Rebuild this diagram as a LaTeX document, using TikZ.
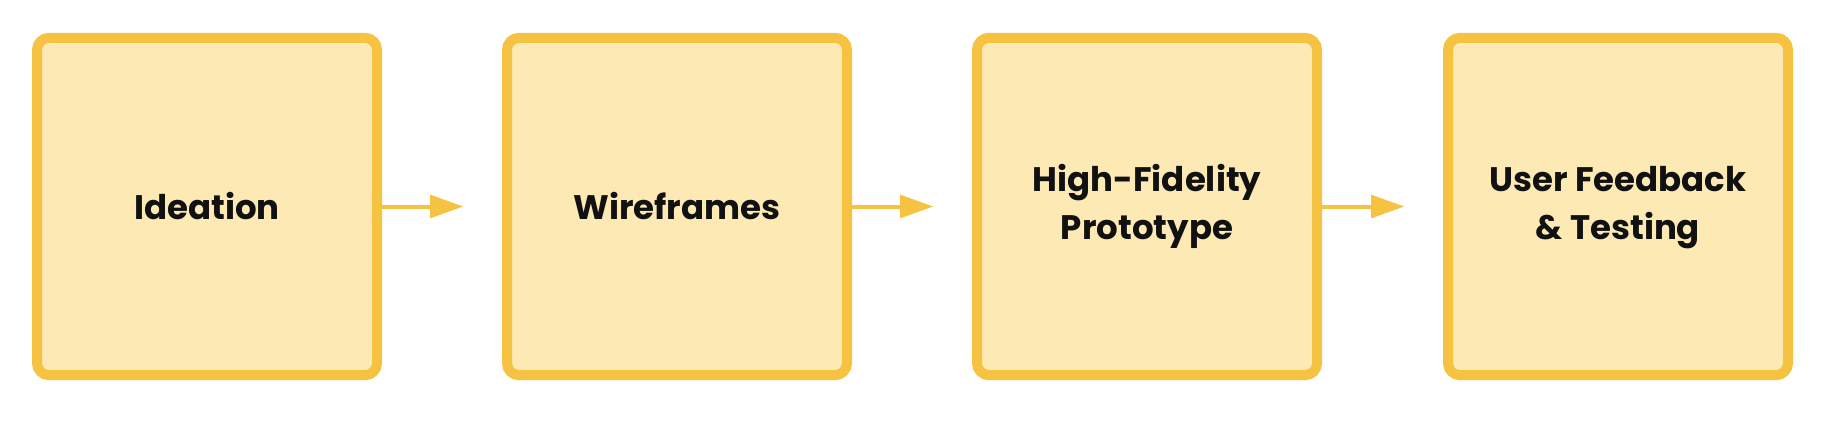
\documentclass[tikz,border=0pt]{standalone}
\usepackage{fontspec}
\setmainfont{Poppins}
\usetikzlibrary{arrows.meta}
\definecolor{boxborder}{HTML}{F5C242}
\definecolor{boxfill}{HTML}{FDE9B4}
\definecolor{txt}{HTML}{111111}
\begin{document}
\begin{tikzpicture}[x=0.75pt,y=-0.75pt,
  stage/.style={draw=boxborder,fill=boxfill,line width=7.5pt,rounded corners=9pt,
    minimum width=255pt,minimum height=253pt,inner sep=0pt,align=center,
    font=\fontsize{25.5}{35}\selectfont\bfseries,text=txt},
  flow/.style={draw=boxborder,line width=3pt,shorten >=29pt,
    -{Triangle[length=25pt,width=17pt]}}]
\useasboundingbox (0,0) rectangle (1826,436);
\node[stage] (b1) at (207,206.5) {Ideation};
\node[stage] (b2) at (677,206.5) {Wireframes};
\node[stage] (b3) at (1147,206.5) {\raisebox{-3pt}{\begin{tabular}{@{}c@{}}High-Fidelity\\[1pt]Prototype\end{tabular}}};
\node[stage] (b4) at (1618,206.5) {\raisebox{-3pt}{\begin{tabular}{@{}c@{}}User Feedback\\[1pt]\& Testing\end{tabular}}};
\draw[flow] (b1.east) -- (b2.west);
\draw[flow] (b2.east) -- (b3.west);
\draw[flow] (b3.east) -- (b4.west);
\end{tikzpicture}
\end{document}
